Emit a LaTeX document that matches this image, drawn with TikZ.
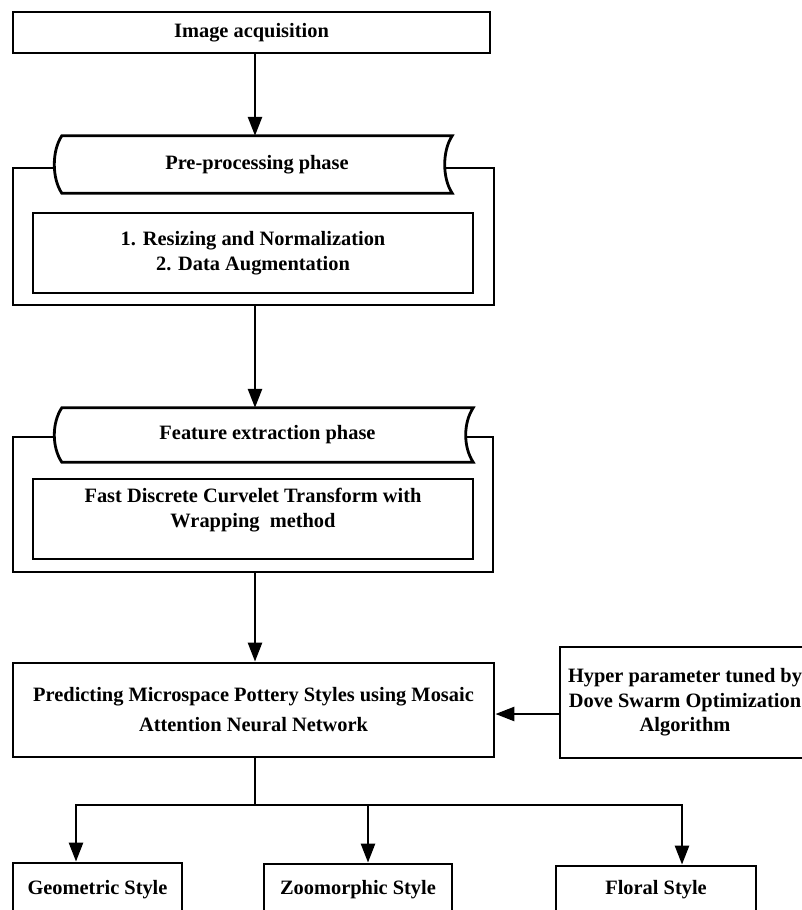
\documentclass[tikz,border=0pt]{standalone}
\usepackage{fontspec}
\setmainfont{Liberation Serif}
\usetikzlibrary{arrows.meta}

\tikzset{
  box/.style={draw, line width=2.8pt, rectangle, inner sep=0pt, align=center,
    font=\fontsize{20.4}{24.5}\selectfont\bfseries},
  arr/.style={line width=2.6pt, -{Triangle[length=19pt,width=14pt]}},
  wire/.style={line width=2.6pt},
}
% stored-data header drawn on the anchors of an empty node
\newcommand{\scrollshape}[1]{%
  \draw[line width=2.8pt, fill=white] (#1.south west)
    .. controls +(-10,-15) and +(-10,15) .. (#1.north west)
    -- (#1.north east)
    .. controls +(-10,15) and +(-10,-15) .. (#1.south east) -- cycle;}

\begin{document}
\begin{tikzpicture}[x=1pt,y=-1pt]
  \useasboundingbox (0,0) rectangle (802,910);
  \clip (0,0) rectangle (802,910);
  \coordinate (spine) at (255,0);

  \node[box, minimum width=477, minimum height=41] (acq) at (251.5,32.5) {Image acquisition};

  % pre-processing phase
  \node[box, minimum width=481, minimum height=137] (preframe) at (253.5,236.5) {};
  \node[minimum width=390, minimum height=57, inner sep=0pt] (prehead) at (257,164.5) {};
  \scrollshape{prehead}
  \node[box, draw=none] (pretitle) at (prehead) {Pre-processing phase};
  \node[box, minimum width=440, minimum height=80] (preinner) at (253,253)
    {1. Resizing and Normalization\\2. Data Augmentation};

  % feature extraction phase
  \node[box, minimum width=480, minimum height=135] (featframe) at (253,504.5) {};
  \node[minimum width=411, minimum height=54, inner sep=0pt] (feathead) at (267.5,435) {};
  \scrollshape{feathead}
  \node[box, draw=none] (feattitle) at (feathead) {Feature extraction phase};
  \node[box, minimum width=440, minimum height=80] (featinner) at (253,519) {};
  \node[box, draw=none] (feattext) at ([yshift=9pt]featinner)
    {Fast Discrete Curvelet Transform with\\Wrapping~ method};

  % classifier and tuner
  \node[box, minimum width=481, minimum height=94,
    font=\fontsize{20.4}{30}\selectfont\bfseries] (pred) at (253.5,710)
    {Predicting Microspace Pottery Styles using Mosaic\\Attention Neural Network};
  \node[box, minimum width=250, minimum height=111] (hyper) at (685,702.5)
    {Hyper parameter tuned by\\Dove Swarm Optimization\\Algorithm};

  % output styles
  \node[box, minimum width=169, minimum height=54] (geo) at (97.5,890) {Geometric Style};
  \node[box, minimum width=188, minimum height=52] (zoo) at (358,890) {Zoomorphic Style};
  \node[box, minimum width=200, minimum height=48] (flo) at (656,890) {Floral Style};

  \draw[arr] (acq.south -| spine) -- (prehead.north -| spine);
  \draw[arr] (preframe.south -| spine) -- (feathead.north -| spine);
  \draw[arr] (featframe.south -| spine) -- (pred.north -| spine);
  \coordinate (tune) at ([yshift=-11.5pt]hyper.west);
  \draw[arr] (tune) -- (tune -| pred.east);

  \coordinate (split) at (255,805);
  \coordinate (geoin) at (76,805);
  \coordinate (zooin) at (368,805);
  \coordinate (floin) at (682,805);
  \draw[wire] (pred.south -| spine) -- (split);
  \draw[arr] (split) -| (geo.north -| geoin);
  \draw[arr] (split) -| (flo.north -| floin);
  \draw[arr] (zooin) -- (zoo.north -| zooin);
\end{tikzpicture}
\end{document}
